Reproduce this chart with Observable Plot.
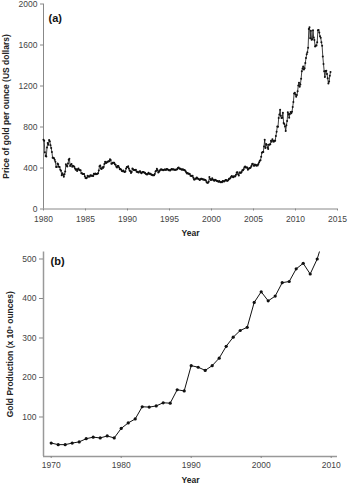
<!DOCTYPE html>
<html>
<head>
<meta charset="utf-8">
<script src="https://cdn.jsdelivr.net/npm/d3@7"></script>
<script src="https://cdn.jsdelivr.net/npm/@observablehq/plot@0.6"></script>
<style>
  html, body { margin: 0; padding: 0; background: #fff; }
  #chart { width: 350px; height: 485px; overflow: hidden; }
  #chart svg { display: block; }
  g[aria-label="y-axis label"] text, g[aria-label="x-axis label"] text { font-weight: bold; fill: #222; }
</style>
</head>
<body>
<div id="chart"></div>
<script>
// ---------- Panel (a): monthly gold price (US$/oz), Jan 1980 onward ----------
const priceStartYear = 1980;
const goldPrice = [
  675,665,554,517,513,600,645,627,674,662,623,595,
  557,500,499,495,480,460,409,410,444,437,413,410,
  384,374,330,350,334,315,339,365,436,422,414,444,
  481,491,420,432,438,413,422,416,412,394,382,388,
  371,387,395,381,377,378,348,348,341,341,342,320,
  303,299,304,325,316,317,317,330,324,326,325,322,
  345,339,346,340,342,343,348,376,418,424,395,391,
  408,401,409,438,461,450,451,461,460,465,467,486,
  477,442,443,451,452,451,437,432,413,406,420,419,
  404,388,390,384,371,368,375,365,362,367,394,409,
  410,417,394,375,369,352,362,395,389,381,381,378,
  383,364,363,358,357,367,368,356,349,358,360,361,
  354,354,345,338,337,341,353,343,345,344,335,334,
  329,329,330,342,367,372,392,379,355,364,373,383,
  387,382,384,377,381,386,385,380,391,389,384,379,
  379,376,382,391,385,387,386,383,383,383,386,387,
  400,405,396,393,392,385,383,387,383,381,378,369,
  355,347,352,344,344,341,324,324,323,325,306,289,
  289,297,296,308,299,292,293,284,289,296,294,291,
  287,287,286,282,277,262,256,257,265,311,293,284,
  285,300,287,280,275,286,282,275,273,270,266,272,
  266,262,263,261,272,270,268,273,283,283,276,276,
  282,296,294,302,314,322,314,310,319,317,319,333,
  357,359,340,328,355,356,351,360,379,379,389,407,
  414,405,406,404,384,392,398,400,406,420,439,442,
  424,423,434,429,422,430,424,438,456,470,476,510,
  549,555,557,610,676,596,634,627,599,586,628,629,
  631,665,655,680,667,655,666,665,713,754,806,803,
  889,922,968,909,888,890,939,839,830,806,760,816,
  858,943,924,890,928,946,934,949,996,1043,1127,1134,
  1118,1095,1113,1148,1205,1232,1193,1215,1271,1343,1370,1391,
  1360,1374,1424,1474,1510,1529,1572,1756,1772,1666,1739,1652,
  1656,1743,1674,1650,1585,1596,1594,1626,1744,1747,1721,1685,
  1671,1627,1593,1487,1414,1343,1287,1347,1349,1316,1276,1225,
  1244,1300,1336
];
const priceXTicks = [1980, 1985, 1990, 1995, 2000, 2005, 2010, 2015];
const priceYTicks = [0, 400, 800, 1200, 1600, 2000];

// ---------- Panel (b): annual gold production (x 10^3 ounces) ----------
const prodYears = [1970,1971,1972,1973,1974,1975,1976,1977,1978,1979,
                   1980,1981,1982,1983,1984,1985,1986,1987,1988,1989,
                   1990,1991,1992,1993,1994,1995,1996,1997,1998,1999,
                   2000,2001,2002,2003,2004,2005,2006,2007,2008,2009];
const prodValues = [34,30,30,34,37,45,49,47,52,47,
                    71,85,95,126,125,128,136,135,169,166,
                    230,226,218,230,249,279,302,319,327,390,
                    417,394,406,440,443,475,489,462,500,558];
const prodXTicks = [1970, 1980, 1990, 2000, 2010];
const prodYTicks = [100, 200, 300, 400, 500];

const priceData = goldPrice.map((v, i) => ({year: priceStartYear + i / 12, price: v}));
const prodData = prodYears.map((y, i) => ({year: y, value: prodValues[i]}));

const font = "'Liberation Sans', Arial, sans-serif";
const fmt = d => String(d);

const chartA = Plot.plot({
  width: 350, height: 242,
  marginLeft: 43, marginRight: 13, marginTop: 3.5, marginBottom: 33.5,
  style: {fontFamily: font, fontSize: "8.5px", color: "#444", background: "#fff"},
  x: {domain: [1980, 2015]},
  y: {domain: [0, 2000]},
  marks: [
    Plot.ruleY([0], {stroke: "#888", strokeWidth: 1}),
    Plot.ruleX([1980], {stroke: "#888", strokeWidth: 1}),
    Plot.axisX({ticks: priceXTicks, tickFormat: fmt, tickSize: 2, tickPadding: 5, stroke: "#888",
      label: "Year", labelAnchor: "center", labelArrow: false, labelOffset: 27}),
    Plot.axisY({ticks: priceYTicks, tickFormat: fmt, tickSize: 3, tickPadding: 3, stroke: "#888",
      label: "Price of gold per ounce (US dollars)", labelAnchor: "center", labelArrow: false, labelOffset: 41}),
    Plot.line(priceData, {x: "year", y: "price", stroke: "#111", strokeWidth: 0.8}),
    Plot.dot(priceData, {x: "year", y: "price", r: 1, fill: "#111", stroke: "none"}),
    Plot.text(["(a)"], {frameAnchor: "top-left", dx: 5, dy: 10, fontWeight: "bold", fontSize: 11, fill: "#111"})
  ]
});

const chartB = Plot.plot({
  width: 350, height: 243,
  marginLeft: 43, marginRight: 13, marginTop: 9.5, marginBottom: 29,
  style: {fontFamily: font, fontSize: "8.5px", color: "#444", background: "#fff"},
  x: {domain: [1968.9, 2010.9]},
  y: {domain: [0, 517.7]},
  marks: [
    Plot.ruleY([0], {stroke: "#999", strokeWidth: 1.5}),
    Plot.ruleX([1968.9], {stroke: "#999", strokeWidth: 1.5}),
    Plot.axisX({ticks: prodXTicks, tickFormat: fmt, tickSize: 2, tickPadding: 3, stroke: "#888",
      label: "Year", labelAnchor: "center", labelArrow: false, labelOffset: 26}),
    Plot.axisY({ticks: prodYTicks, tickFormat: fmt, tickSize: 4, tickPadding: 3, stroke: "#888",
      label: "Gold Production (x 10³ ounces)", labelAnchor: "center", labelArrow: false, labelOffset: 37}),
    Plot.line(prodData, {x: "year", y: "value", stroke: "#111", strokeWidth: 1, clip: true}),
    Plot.dot(prodData, {x: "year", y: "value", r: 1.6, fill: "#111", stroke: "none", clip: true}),
    Plot.text(["(b)"], {frameAnchor: "top-left", dx: 7, dy: 5, fontWeight: "bold", fontSize: 11, fill: "#111"})
  ]
});

document.getElementById("chart").append(chartA, chartB);
</script>
</body>
</html>
